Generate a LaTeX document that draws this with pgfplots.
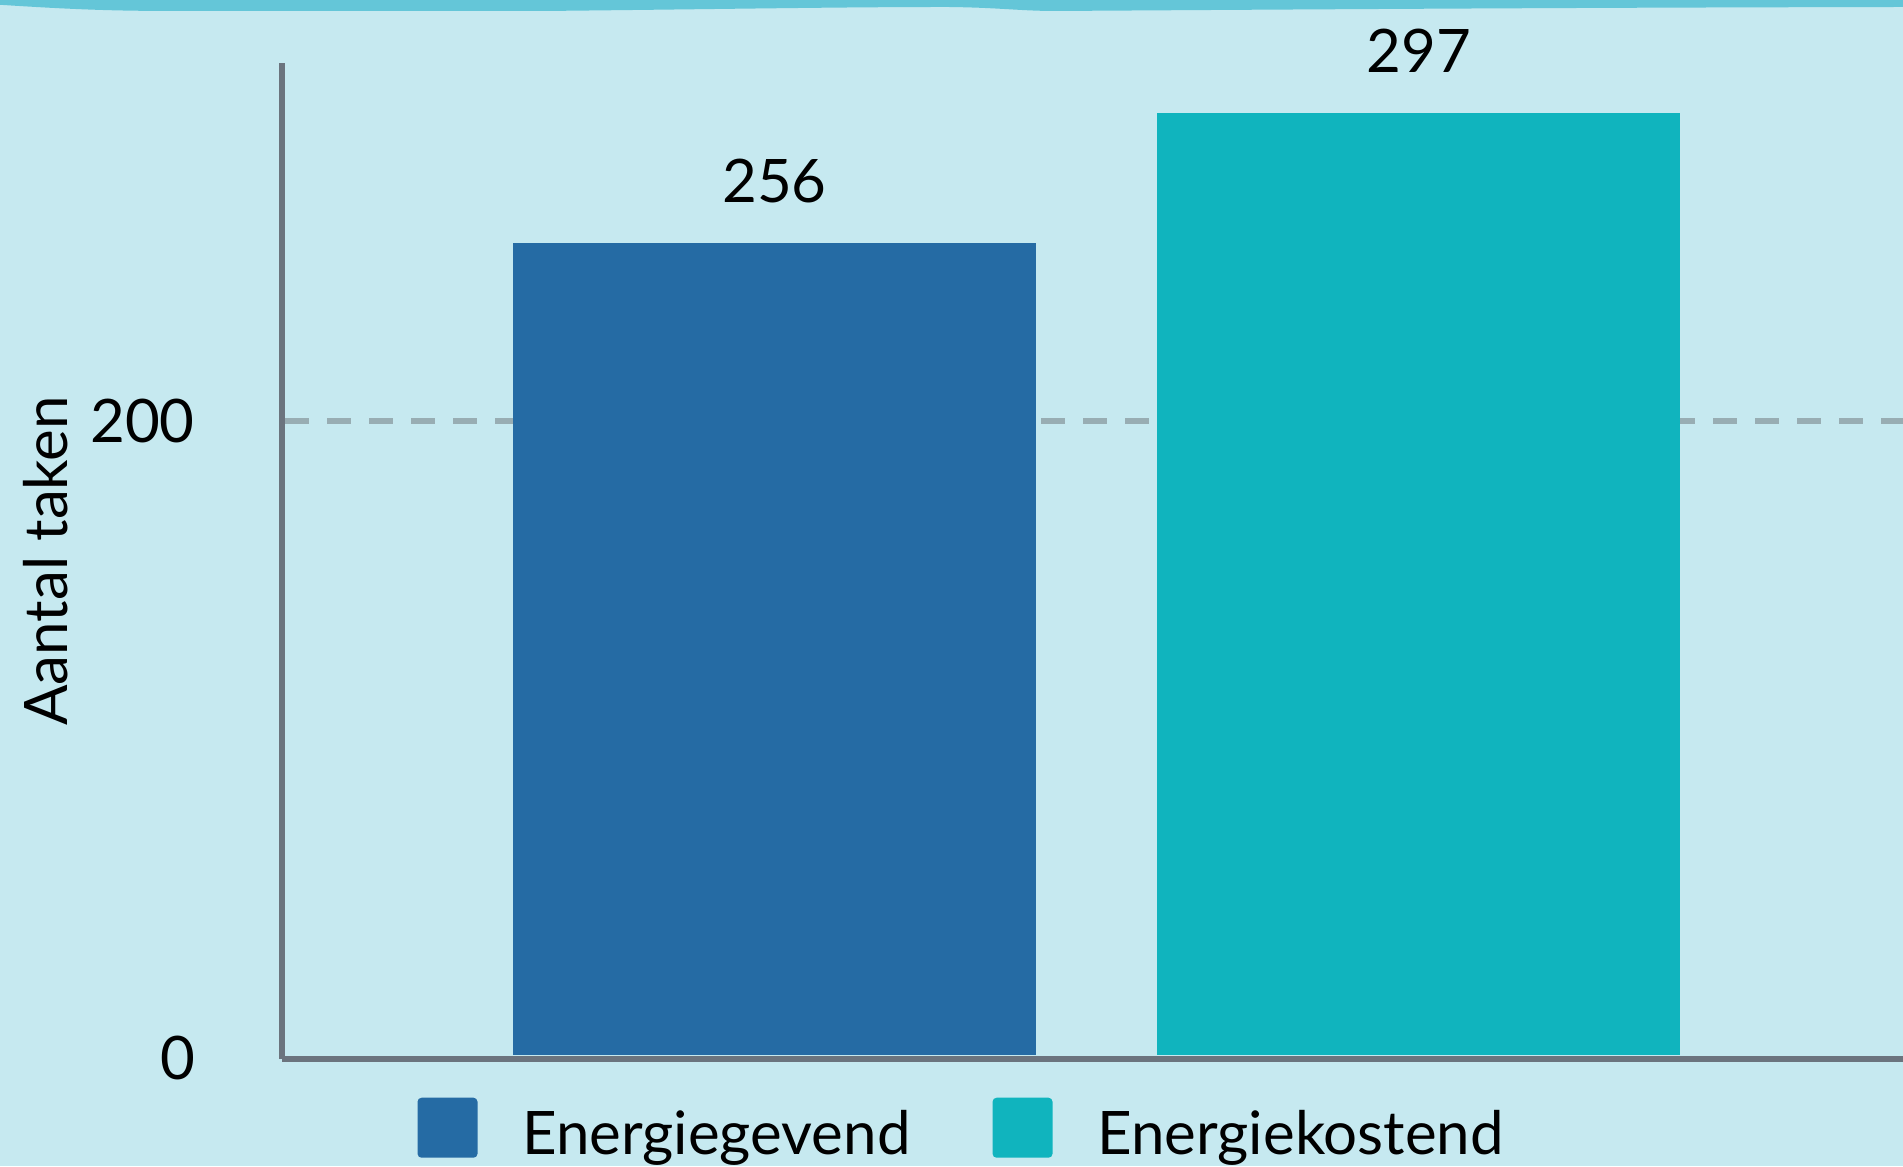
\documentclass[border=0pt]{standalone}
\usepackage{pgfplots}
\pgfplotsset{compat=1.18}
\usepackage{fontspec}
\setmainfont{Lato}
\definecolor{bg}{HTML}{C6E9F0}
\definecolor{band}{HTML}{64C6D8}
\definecolor{barA}{HTML}{256BA4}
\definecolor{barB}{HTML}{10B4BE}
\definecolor{axisgray}{HTML}{6B747E}
\definecolor{gridgray}{HTML}{98ADB3}
\newcommand{\lbl}{\fontsize{15}{18}\selectfont}
\begin{document}
\begin{tikzpicture}
\fill[bg] (0pt,0pt) rectangle (475.75pt,291.5pt);
\fill[band] (0pt,291.5pt) -- (0pt,290.3pt) .. controls (20pt,289pt) and (30pt,288.75pt) .. (45pt,288.75pt) -- (136pt,288.75pt) .. controls (180pt,289.2pt) and (210pt,289.75pt) .. (237pt,289.75pt) .. controls (250pt,289.6pt) and (255pt,288.75pt) .. (264pt,288.75pt) .. controls (350pt,289.3pt) and (400pt,289.6pt) .. (475.75pt,289.75pt) -- (475.75pt,291.5pt) -- cycle;
\begin{axis}[
  at={(70.5pt,26.75pt)}, anchor=south west,
  scale only axis, width=405.25pt, height=249pt,
  xmin=-0.7648, xmax=1.752, ymin=-1.26, ymax=312.9,
  axis x line=bottom, axis y line=left,
  axis line style={-, line width=1.3pt, draw=axisgray},
  xtick=\empty,
  ytick={200}, extra y ticks={0},
  extra y tick style={grid=none, yticklabel style={yshift=-0.8pt}},
  ymajorgrids,
  major grid style={dash pattern=on 6pt off 4.5pt, dash phase=-0.75pt, line width=1.5pt, draw=gridgray},
  major tick length=0pt,
  yticklabel style={anchor=east, inner sep=0pt, xshift=-21.6pt, font=\lbl},
  /pgf/number format/assume math mode=true,
  ylabel={Aantal taken},
  every axis y label/.style={at={(axis description cs:-0.1456,0.5)}, rotate=90, anchor=center, font=\lbl},
  ybar, bar width=130.75pt, bar shift=0pt,
  nodes near coords,
  nodes near coords style={anchor=south, inner sep=0pt, yshift=10pt, font=\lbl, text=black},
  legend columns=2,
  legend style={draw=none, fill=none, inner sep=0pt, outer sep=0pt, nodes={inner sep=0pt}, font=\lbl,
    at={(axis description cs:0.0836,-0.0389)}, anchor=north west,
    /tikz/every odd column/.append style={column sep=11.25pt},
    /tikz/every even column/.append style={column sep=20.5pt}},
  legend image code/.code={\fill[rounded corners=1pt] (0pt,-5.5pt) rectangle (15pt,9.5pt);},
]
\addplot[fill=barA, draw=none] coordinates {(0,256)};
\addlegendentry{Energiegevend}
\addplot[fill=barB, draw=none] coordinates {(1,297)};
\addlegendentry{Energiekostend}
\end{axis}
\pgfresetboundingbox
\useasboundingbox (0pt,0pt) rectangle (475.75pt,291.5pt);
\end{tikzpicture}
\end{document}
